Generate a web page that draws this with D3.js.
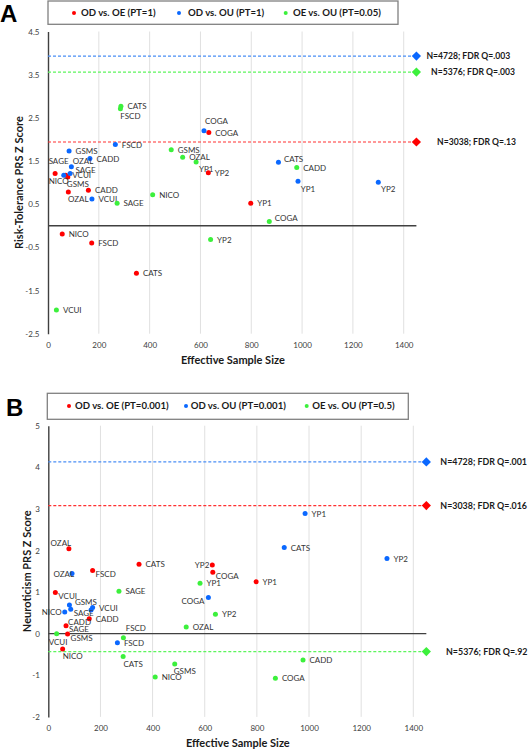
<!DOCTYPE html>
<html><head><meta charset="utf-8">
<script src="https://cdn.jsdelivr.net/npm/d3@7"></script>
<style>
body{margin:0;background:#fff;}
svg{display:block;font-family:Lato,"Open Sans",sans-serif;}
</style>
</head><body>
<svg id="chart" width="530" height="750"></svg>
<script>
// ---------------- DATA ----------------
const xTicks = [0, 200, 400, 600, 800, 1000, 1200, 1400];
const yTicksA = [-2.5, -1.5, -0.5, 0.5, 1.5, 2.5, 3.5, 4.5];
const yTicksB = [-2, -1, 0, 1, 2, 3, 4, 5];
const refMarkerN = 1450;

// Panel A : Risk-Tolerance PRS
const aLegend = ["OD vs. OE (PT=1)", "OD vs. OU (PT=1)", "OE vs. OU (PT=0.05)"];
const aRedSites  = ["NICO","FSCD","CATS","SAGE","VCUI","GSMS","CADD","OZAL","COGA","YP1","YP2"];
const aRedN      = [56, 172, 348, 28, 70, 78, 159, 80, 633, 798, 631];
const aRedZ      = [-0.19, -0.40, -1.10, 1.21, 1.17, 1.13, 0.82, 0.78, 2.16, 0.52, 1.23];
const aBlueSites = ["COGA","FSCD","GSMS","CADD","OZAL","SAGE","NICO","VCUI","CATS","YP1","YP2"];
const aBlueN     = [614, 265, 83, 165, 92, 87, 62, 173, 907, 984, 1300];
const aBlueZ     = [2.20, 1.88, 1.73, 1.56, 1.37, 1.21, 1.17, 0.62, 1.47, 1.03, 1.01];
const aGreenSites= ["CATS","FSCD","GSMS","OZAL","YP1","NICO","SAGE","CADD","COGA","YP2","VCUI"];
const aGreenN    = [287, 285, 485, 530, 583, 412, 272, 979, 871, 640, 33];
const aGreenZ    = [2.77, 2.71, 1.76, 1.59, 1.48, 0.72, 0.52, 1.35, 0.10, -0.32, -1.95];
const aRefZ      = [3.93, 3.56, 1.94];
const aRefSeries = ["blue", "green", "red"];
const aRefLabels = ["N=4728; FDR Q=.003", "N=5376; FDR Q=.003", "N=3038; FDR Q=.13"];

// Panel B : Neuroticism PRS
const bLegend = ["OD vs. OE (PT=0.001)", "OD vs. OU (PT=0.001)", "OE vs. OU (PT=0.5)"];
const bRedSites  = ["OZAL","FSCD","CATS","YP2","COGA","YP1","VCUI","CADD","SAGE","GSMS","NICO"];
const bRedN      = [79, 170, 348, 629, 631, 797, 27, 157, 68, 74, 55];
const bRedZ      = [2.04, 1.52, 1.67, 1.65, 1.48, 1.25, 0.99, 0.36, 0.19, -0.01, -0.37];
const bBlueSites = ["YP1","CATS","YP2","OZAL","COGA","GSMS","VCUI","SAGE","CADD","NICO","FSCD"];
const bBlueN     = [985, 905, 1299, 91, 614, 81, 170, 86, 164, 63, 265];
const bBlueZ     = [2.89, 2.07, 1.81, 1.45, 0.87, 0.69, 0.63, 0.59, 0.57, 0.52, -0.22];
const bGreenSites= ["YP1","SAGE","YP2","OZAL","VCUI","FSCD","CATS","CADD","GSMS","NICO","COGA"];
const bGreenN    = [582, 271, 641, 529, 32, 288, 287, 977, 485, 410, 871];
const bGreenZ    = [1.21, 1.02, 0.47, 0.16, 0.00, -0.10, -0.55, -0.63, -0.73, -1.04, -1.07];
const bRefZ      = [4.13, 3.08, -0.43];
const bRefSeries = ["blue", "red", "green"];
const bRefLabels = ["N=4728; FDR Q=.001", "N=3038; FDR Q=.016", "N=5376; FDR Q=.92"];

// ---------------- STYLE / LAYOUT ----------------
const colors = {red: "#ff0000", blue: "#0a68ff", green: "#3cf03c"};
const dashColors = {red: "#ff3030", blue: "#4a8ef5", green: "#5df55d"};

// label placement codes: [dx, dy, anchor]
const place = {
  r:   [6.5, 0.3, "start"],
  ru:  [5.5, -3.2, "start"],
  rd:  [3, 3.8, "start"],
  l:   [-3, 0.5, "end"],
  lo:  [2, 0.8, "end"],
  ld:  [-4, 4, "end"],
  a:   [3.5, -12, "middle"],
  ar:  [12.5, -9.5, "middle"],
  ar2: [11.7, -5.8, "middle"],
  al:  [-8, -6, "middle"],
  b:   [1.5, 8, "middle"],
  br:  [10, 7.5, "middle"],
  bl:  [-5, 6, "middle"],
  bl2: [-11.5, 12, "middle"]
};
const labelPlacement = {
  A: {
    red:   ["r","r","r","a","r","br","r","br","r","r","r"],
    blue:  ["ar","r","r","r","ar2","ru","bl","r","ru","br","br"],
    green: ["r","br","r","r","br","r","r","r","ru","r","r"]
  },
  B: {
    red:   ["al","rd","r","l","rd","r","rd","r","rd","rd","br"],
    blue:  ["r","r","r","lo","ld","ru","r","rd","bl2","l","r"],
    green: ["r","r","r","r","b","ar","br","r","br","r","r"]
  }
};

const panels = [
  {
    key: "A", letter: "A", letterXY: [0, 22],
    yTitle: "Risk-Tolerance PRS Z Score", yTitleX: 19,
    xTitleY: 364,
    xRange: [48, 403.7], yRange: [333.7, 31.5], yDomain: [-2.5, 4.5], yTicks: yTicksA,
    legendBox: [48, 1, 350, 23.3], legendY: 13, legendDots: [74, 179, 285.7], legendText: [81, 188, 293],
    legend: aLegend,
    series: [
      {c: "red", sites: aRedSites, n: aRedN, z: aRedZ},
      {c: "blue", sites: aBlueSites, n: aBlueN, z: aBlueZ},
      {c: "green", sites: aGreenSites, n: aGreenN, z: aGreenZ}
    ],
    refs: {z: aRefZ, c: aRefSeries, labels: aRefLabels, dx: [10, 14.7, 20.7], size: 8.6}
  },
  {
    key: "B", letter: "B", letterXY: [6, 415.5],
    yTitle: "Neuroticism PRS Z Score", yTitleX: 27,
    xTitleY: 747,
    xRange: [48.3, 413.3], yRange: [716.9, 425.7], yDomain: [-2, 5], yTicks: yTicksB,
    legendBox: [47.3, 393.3, 361, 26], legendY: 406, legendDots: [69, 186, 306.7], legendText: [75, 190.7, 312.3],
    legend: bLegend,
    series: [
      {c: "red", sites: bRedSites, n: bRedN, z: bRedZ},
      {c: "blue", sites: bBlueSites, n: bBlueN, z: bBlueZ},
      {c: "green", sites: bGreenSites, n: bGreenN, z: bGreenZ}
    ],
    refs: {z: bRefZ, c: bRefSeries, labels: bRefLabels, dx: [14, 14, 19.7], size: 8.9}
  }
];

const svg = d3.select("#chart");

panels.forEach(p => {
  const g = svg.append("g");
  const x = d3.scaleLinear().domain([0, 1400]).range(p.xRange);
  const y = d3.scaleLinear().domain(p.yDomain).range(p.yRange);
  const top = p.yRange[1], bottom = p.yRange[0];

  // panel letter
  g.append("text").attr("x", p.letterXY[0]).attr("y", p.letterXY[1])
    .attr("font-family", "Liberation Sans, Arial, sans-serif")
    .attr("font-weight", "bold").attr("font-size", 24).attr("fill", "#000").text(p.letter);

  // legend
  const lb = p.legendBox;
  g.append("rect").attr("x", lb[0]).attr("y", lb[1]).attr("width", lb[2]).attr("height", lb[3])
    .attr("fill", "#fff").attr("stroke", "#808080").attr("stroke-width", 1.3);
  p.series.forEach((s, i) => {
    g.append("circle").attr("cx", p.legendDots[i]).attr("cy", p.legendY).attr("r", 2)
      .attr("fill", colors[s.c]);
    g.append("text").attr("x", p.legendText[i]).attr("y", p.legendY).attr("dy", "0.35em")
      .attr("font-weight", "bold").attr("font-size", 9.6).attr("fill", "#1a1a1a").text(p.legend[i]);
  });

  // gridlines
  g.append("g").selectAll("line").data(xTicks.filter(d => d > 0)).join("line")
    .attr("x1", d => x(d)).attr("x2", d => x(d)).attr("y1", top).attr("y2", bottom)
    .attr("stroke", "#e0e0e0").attr("stroke-width", 1);

  // x axis labels
  const xa = g.append("g").attr("transform", `translate(0,${bottom})`)
    .call(d3.axisBottom(x).tickValues(xTicks).tickSize(0).tickPadding(8.5).tickFormat(d => String(d)));
  xa.select(".domain").remove();
  xa.selectAll("text").attr("font-family", "Lato, sans-serif").attr("font-size", 8).attr("fill", "#404040");

  // y axis
  const ya = g.append("g").attr("transform", `translate(${p.xRange[0]},0)`)
    .call(d3.axisLeft(y).tickValues(p.yTicks).tickSize(0).tickSizeOuter(0).tickPadding(8.5).tickFormat(d => String(d)));
  ya.select(".domain").attr("stroke", "#404040").attr("stroke-width", 1.4);
  ya.selectAll("text").attr("font-family", "Lato, sans-serif").attr("font-size", 8).attr("fill", "#404040");

  // zero line
  g.append("line").attr("x1", x(0)).attr("x2", x(refMarkerN)).attr("y1", y(0)).attr("y2", y(0))
    .attr("stroke", "#404040").attr("stroke-width", 1.3);

  // reference (meta-analysis) lines
  p.refs.z.forEach((rz, i) => {
    const c = p.refs.c[i];
    const yy = y(rz), xx = x(refMarkerN);
    g.append("line").attr("x1", x(0)).attr("x2", xx).attr("y1", yy).attr("y2", yy)
      .attr("stroke", dashColors[c]).attr("stroke-width", 1.2).attr("stroke-dasharray", "3,2");
    const h = 4.6;
    g.append("path").attr("d", `M${xx},${yy - h}L${xx + h},${yy}L${xx},${yy + h}L${xx - h},${yy}Z`)
      .attr("fill", colors[c]);
    g.append("text").attr("x", xx + p.refs.dx[i]).attr("y", yy).attr("dy", "0.35em")
      .attr("font-weight", "bold").attr("font-size", p.refs.size).attr("fill", "#1a1a1a").text(p.refs.labels[i]);
  });

  // points + labels
  p.series.forEach(s => {
    const pts = s.sites.map((site, i) => ({site, n: s.n[i], z: s.z[i], pl: labelPlacement[p.key][s.c][i]}));
    g.append("g").selectAll("circle").data(pts).join("circle")
      .attr("cx", d => x(d.n)).attr("cy", d => y(d.z)).attr("r", 2.5).attr("fill", colors[s.c]);
    g.append("g").selectAll("text").data(pts).join("text")
      .attr("x", d => x(d.n) + place[d.pl][0])
      .attr("y", d => y(d.z) + place[d.pl][1])
      .attr("dy", "0.35em")
      .attr("text-anchor", d => place[d.pl][2])
      .attr("font-size", 8).attr("fill", "#333").text(d => d.site);
  });

  // axis titles
  g.append("text").attr("x", (p.xRange[0] + p.xRange[1]) / 2 + 7).attr("y", p.xTitleY)
    .attr("text-anchor", "middle").attr("font-weight", "bold").attr("font-size", 11).attr("fill", "#1a1a1a")
    .text("Effective Sample Size");
  g.append("text").attr("transform", `translate(${p.yTitleX},${(top + bottom) / 2}) rotate(-90)`)
    .attr("text-anchor", "middle").attr("dy", "0.35em").attr("font-weight", "bold").attr("font-size", 11)
    .attr("fill", "#1a1a1a").text(p.yTitle);
});
</script>
</body></html>
